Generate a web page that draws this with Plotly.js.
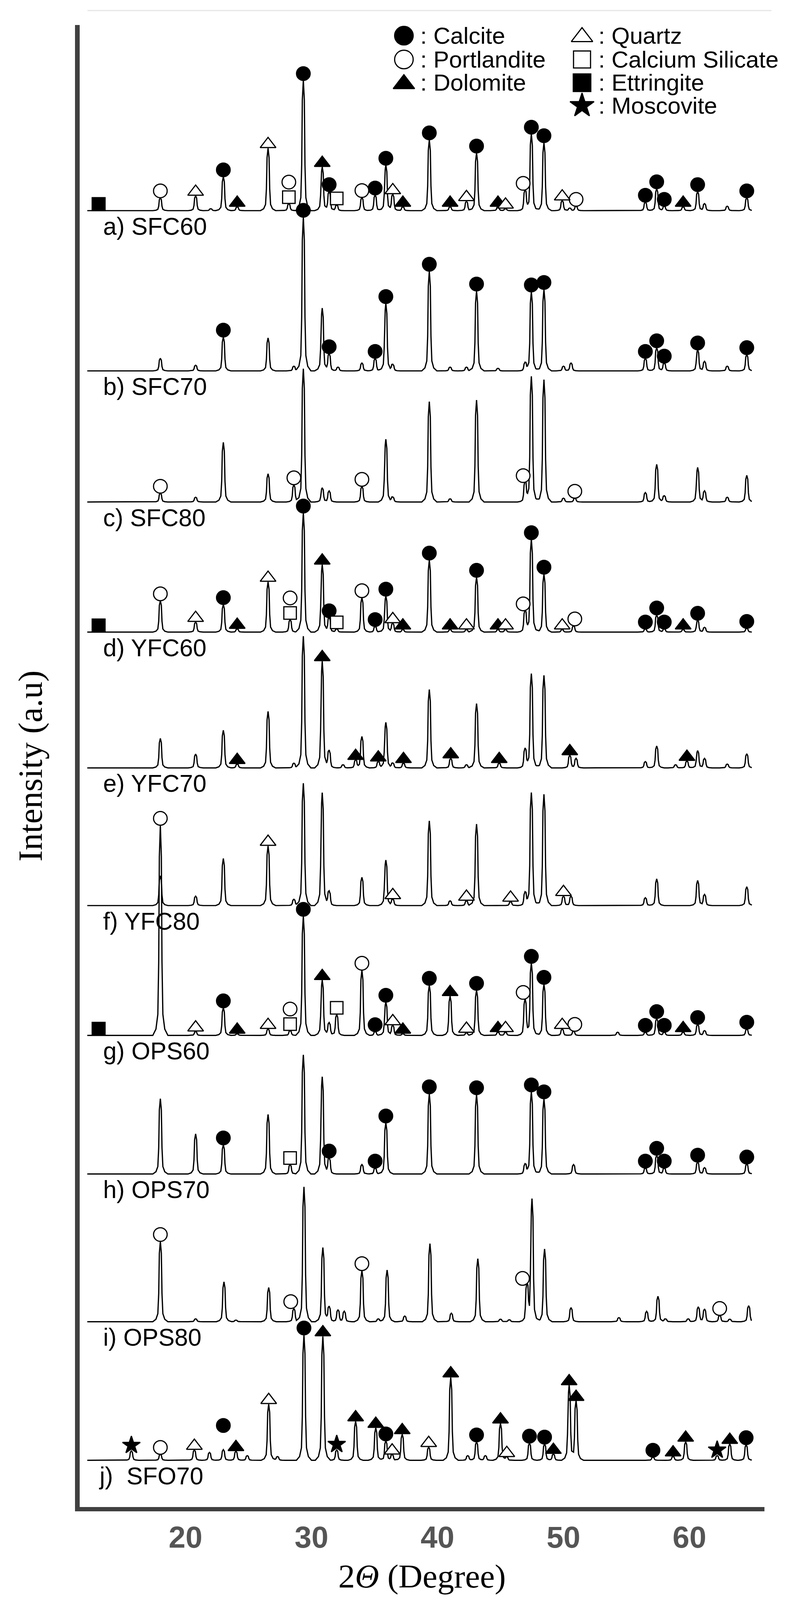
<!DOCTYPE html>
<html>
<head>
<meta charset="utf-8">
<script src="https://cdn.plot.ly/plotly-3.0.1.min.js"></script>
<style>html,body{margin:0;padding:0;background:#fff;overflow:hidden;}</style>
</head>
<body>
<div id="chart" style="width:2048px;height:5102px;"></div>
<script>
// ---------------- DATA ----------------
const sampleLabels = ['a) SFC60','b) SFC70','c) SFC80','d) YFC60','e) YFC70','f) YFC80','g) OPS60','h) OPS70','i) OPS80','j)\u00a0 SFO70'];
const stackOffset = [4134, 3623, 3205, 2790, 2357, 1918, 1504, 1062, 591, 149];
const tickValues = [20, 30, 40, 50, 60];
const scanRange = [12.2, 64.95];

const peaksSFC60 = [[18.0,41],[20.8,47],[22.0,6],[23.0,108],[24.1,12],[26.55,199],[28.2,22],[29.35,415],[30.85,139],[31.4,61],[32.0,18],[34.0,42],[35.05,50],[35.9,145],[36.45,52],[37.25,12],[39.35,226],[41.0,12],[42.3,30],[43.1,184],[44.8,12],[45.4,6],[46.95,65],[47.45,244],[48.45,217],[49.9,32],[50.5,8],[51.0,14],[56.5,27],[57.4,70],[58.0,14],[59.5,12],[60.65,61],[61.2,22],[63.0,14],[64.55,41]];
const peaksSFC70 = [[18.0,40],[20.8,18],[23.0,108],[26.55,105],[28.6,15],[29.35,490],[30.85,200],[31.4,55],[32.1,12],[34.0,25],[35.05,40],[35.9,215],[36.45,20],[39.35,318],[41.0,12],[42.3,12],[43.1,255],[44.8,8],[46.95,25],[47.45,252],[48.45,260],[50.0,15],[50.6,25],[56.5,40],[57.4,74],[58.0,25],[60.65,67],[61.2,30],[63.0,15],[64.55,52]];
const peaksSFC80 = [[18.0,28],[20.8,15],[23.0,190],[26.55,90],[28.6,55],[29.35,425],[30.85,45],[31.4,35],[34.0,50],[35.9,200],[36.45,15],[39.35,320],[41.0,10],[43.1,325],[46.95,62],[47.45,400],[48.45,390],[50.0,12],[50.9,12],[56.5,30],[57.4,120],[58.0,20],[60.65,110],[61.2,35],[63.0,15],[64.55,85]];
const peaksYFC60 = [[18.0,100],[20.8,32],[23.0,88],[24.1,10],[26.55,160],[28.3,40],[29.35,380],[30.85,215],[31.4,46],[32.0,10],[34.0,110],[35.05,18],[35.9,115],[36.45,28],[37.25,8],[39.35,230],[41.0,8],[42.3,8],[43.1,175],[44.8,8],[45.4,8],[46.95,68],[47.45,295],[48.45,185],[49.9,8],[50.8,20],[56.5,10],[57.4,55],[58.0,10],[59.5,8],[60.65,38],[61.2,15],[64.55,12]];
const peaksYFC70 = [[18.0,94],[20.8,44],[23.0,120],[24.1,12],[26.55,180],[28.6,15],[29.35,420],[30.85,340],[31.4,55],[32.5,10],[33.5,25],[34.0,100],[35.3,20],[35.9,145],[36.45,15],[37.3,15],[39.35,250],[41.05,30],[42.3,10],[43.1,205],[44.9,15],[46.95,60],[47.45,300],[48.45,295],[50.5,40],[51.0,30],[56.5,20],[57.4,70],[58.9,10],[59.8,22],[60.65,55],[61.2,30],[63.0,12],[64.55,45]];
const peaksYFC80 = [[18.0,95],[20.8,30],[23.0,150],[26.55,190],[28.6,20],[29.35,390],[30.85,360],[31.4,45],[34.0,90],[35.9,145],[36.45,20],[39.35,270],[41.0,15],[42.3,15],[43.1,260],[45.8,12],[46.95,40],[47.45,360],[48.45,355],[50.0,30],[50.6,30],[56.5,25],[57.4,85],[60.65,80],[61.2,35],[64.55,60]];
const peaksOPS60 = [[18.0,670],[20.8,12],[23.0,88],[24.1,5],[26.55,20],[28.3,15],[29.35,380],[30.85,176],[31.4,40],[32.0,67],[34.0,208],[35.05,12],[35.9,106],[36.45,32],[37.25,5],[39.35,160],[41.0,125],[42.3,8],[43.1,144],[44.8,10],[45.4,10],[46.95,115],[47.45,230],[48.45,163],[49.9,20],[50.8,13],[54.3,10],[56.5,10],[57.4,54],[58.0,10],[59.5,10],[60.65,35],[61.2,15],[64.55,20]];
const peaksOPS70 = [[18.0,240],[20.8,128],[23.0,93],[26.55,190],[28.3,30],[29.35,380],[30.85,310],[31.4,51],[34.0,30],[35.05,19],[35.9,163],[39.35,256],[43.1,253],[46.95,30],[47.45,262],[48.45,240],[50.8,30],[56.5,19],[57.4,60],[58.0,19],[60.65,38],[61.2,20],[64.55,32]];
const peaksOPS80 = [[18.0,256],[20.8,9],[23.05,127],[24.0,5],[26.6,109],[28.6,42],[29.4,430],[30.9,236],[31.4,47],[32.1,38],[32.6,33],[34.0,163],[35.3,9],[36.0,165],[37.4,18],[39.4,249],[41.1,27],[43.2,201],[45.0,8],[45.7,6],[47.1,116],[47.5,390],[48.5,232],[50.6,45],[54.4,13],[56.6,33],[57.5,81],[58.1,9],[59.9,9],[60.7,47],[61.2,40],[62.4,20],[63.2,8],[64.7,51]];
const peaksSFO70 = [[15.7,30],[18.0,19],[20.7,33],[21.9,25],[23.0,34],[24.0,29],[24.9,15],[26.6,179],[27.3,12],[29.4,400],[30.9,395],[32.0,33],[33.5,124],[35.1,103],[35.9,62],[36.4,18],[37.2,83],[39.3,42],[41.05,264],[42.4,15],[43.1,59],[43.8,15],[45.0,117],[45.5,10],[47.3,55],[48.5,52],[49.2,20],[50.45,239],[51.0,189],[57.1,10],[58.7,12],[59.7,59],[62.2,15],[63.2,52],[64.5,50]];

const marksSFC60 = [['Ett',13.1],['Por',18.0],['Qtz',20.8],['Cal',23.0],['Dol',24.1],['Qtz',26.55],['CS',28.2],['Por',28.2,47],['Cal',29.35],['Dol',30.85],['Cal',31.4],['CS',32.0],['Por',34.0],['Cal',35.05],['Cal',35.9],['Qtz',36.45],['Dol',37.25],['Cal',39.35],['Dol',41.0],['Qtz',42.3],['Cal',43.1],['Dol',44.8],['Qtz',45.4],['Por',46.8],['Cal',47.45],['Cal',48.45],['Qtz',49.9],['Por',51.0],['Cal',56.5],['Cal',57.4],['Cal',58.0],['Dol',59.5],['Cal',60.65],['Cal',64.55]];
const marksSFC70 = [['Cal',23.0],['Cal',29.35],['Cal',31.4],['Cal',35.05],['Cal',35.9],['Cal',39.35],['Cal',43.1],['Cal',47.45],['Cal',48.45],['Cal',56.5],['Cal',57.4],['Cal',58.0],['Cal',60.65],['Cal',64.55]];
const marksSFC80 = [['Por',18.0],['Por',28.6],['Por',34.0],['Por',46.8],['Por',50.9]];
const marksYFC60 = [['Ett',13.1],['Por',18.0],['Qtz',20.8],['Cal',23.0],['Dol',24.1],['Qtz',26.55],['CS',28.3],['Por',28.3,47],['Cal',29.35],['Dol',30.85],['Cal',31.4],['CS',32.0],['Por',34.0],['Cal',35.05],['Cal',35.9],['Qtz',36.45],['Dol',37.25],['Cal',39.35],['Dol',41.0],['Qtz',42.3],['Cal',43.1],['Dol',44.8],['Qtz',45.4],['Por',46.8],['Cal',47.45],['Cal',48.45],['Qtz',49.9],['Por',50.9],['Cal',56.5],['Cal',57.4],['Cal',58.0],['Dol',59.5],['Cal',60.65],['Cal',64.55]];
const marksYFC70 = [['Dol',24.1],['Dol',30.85],['Dol',33.5],['Dol',35.3],['Dol',37.3],['Dol',41.05],['Dol',44.9],['Dol',50.5],['Dol',59.8]];
const marksYFC80 = [['Qtz',26.55],['Qtz',36.45],['Qtz',42.3],['Qtz',45.8],['Qtz',50.0]];
const marksOPS60 = [['Ett',13.1],['Por',18.0],['Qtz',20.8],['Cal',23.0],['Dol',24.1],['Qtz',26.55],['CS',28.3],['Por',28.3,47],['Cal',29.35],['Dol',30.85],['CS',32.0],['Por',34.0],['Cal',35.05],['Cal',35.9],['Qtz',36.45],['Dol',37.25],['Cal',39.35],['Dol',41.0],['Qtz',42.3],['Cal',43.1],['Dol',44.8],['Qtz',45.4],['Por',46.8],['Cal',47.45],['Cal',48.45],['Qtz',49.9],['Por',50.9],['Cal',56.5],['Cal',57.4],['Cal',58.0],['Dol',59.5],['Cal',60.65],['Cal',64.55]];
const marksOPS70 = [['Cal',23.0],['CS',28.3],['Cal',31.4],['Cal',35.05],['Cal',35.9],['Cal',39.35],['Cal',43.1],['Cal',47.45],['Cal',48.45],['Cal',56.5],['Cal',57.4],['Cal',58.0],['Cal',60.65],['Cal',64.55]];
const marksOPS80 = [['Por',18.0],['Por',28.35],['Por',34.0],['Por',46.75],['Por',62.4]];
const marksSFO70 = [['Mos',15.7],['Por',18.0],['Qtz',20.7],['Cal',23.0,55],['Dol',24.0],['Qtz',26.6],['Cal',29.4],['Dol',30.9],['Mos',32.0],['Dol',33.5],['Dol',35.1],['Cal',35.9],['Qtz',36.4],['Dol',37.2],['Qtz',39.3],['Dol',41.05],['Cal',43.1],['Dol',45.0],['Qtz',45.5],['Cal',47.3],['Cal',48.5],['Dol',49.2],['Dol',50.45],['Dol',51.0],['Cal',57.1],['Dol',58.7],['Dol',59.7],['Mos',62.2],['Dol',63.2],['Cal',64.5]];

const phaseKeys = ['Cal','Por','Dol','Qtz','CS','Ett','Mos'];
const phaseNames = ['Calcite','Portlandite','Dolomite','Quartz','Calcium Silicate','Ettringite','Moscovite'];

// ---------------- STYLE / LAYOUT ----------------
// reference geometry is 2048 x 5102; the window may be shorter, so the figure is fitted into it
const refPage = {w:2048, h:5102, l:204, r:91, t:80, b:296};
const pageH = Math.min(refPage.h, window.innerHeight || refPage.h);
const sy = pageH / refPage.h;
const fs = sy < 1 ? 0.97 : 1;
document.getElementById('chart').style.height = pageH + 'px';

const phaseStyle = {
  Cal: {symbol:'circle',      fill:'#000', size:36, lift:22},
  Por: {symbol:'circle',      fill:'#fff', size:36, lift:22},
  Dol: {symbol:'triangle-up', fill:'#000', size:36, lift:13},
  Qtz: {symbol:'triangle-up', fill:'#fff', size:36, lift:13},
  CS:  {symbol:'square',      fill:'#fff', size:33, lift:21},
  Ett: {symbol:'square',      fill:'#000', size:34, lift:21},
  Mos: {symbol:'star',        fill:'#000', size:35, lift:18}
};
const legendPos = {Cal:[0,0], Por:[0,1], Dol:[0,2], Qtz:[1,0], CS:[1,1], Ett:[1,2], Mos:[1,3]};
const legendCols = [1034, 1490];
const legendRows = [114, 190, 264, 337];
const legendScale = 1.36;
const plotBottomRef = refPage.h - refPage.b;
const plotRightPx = refPage.w - refPage.r;
// one diffraction peak: offsets (degree) and relative intensity
const profileDx = [-0.6,-0.35,-0.2,-0.13,-0.08,0,0.08,0.13,0.2,0.35,0.6];
const profileFr = [0,0.03,0.1,0.35,0.85,1,0.85,0.35,0.1,0.03,0];

// ---------------- BUILD ----------------
const allPeaks = [peaksSFC60,peaksSFC70,peaksSFC80,peaksYFC60,peaksYFC70,peaksYFC80,peaksOPS60,peaksOPS70,peaksOPS80,peaksSFO70];
const allMarks = [marksSFC60,marksSFC70,marksSFC80,marksYFC60,marksYFC70,marksYFC80,marksOPS60,marksOPS70,marksOPS80,marksSFO70];

function profileAt(d) {
  const n = profileDx.length;
  if (d <= profileDx[0] || d >= profileDx[n-1]) return 0;
  for (let i = 0; i < n-1; i++) {
    if (d >= profileDx[i] && d <= profileDx[i+1]) {
      const t = (d - profileDx[i]) / (profileDx[i+1] - profileDx[i]);
      return profileFr[i] + t * (profileFr[i+1] - profileFr[i]);
    }
  }
  return 0;
}
function buildLine(peaks, off) {
  const set = new Set([scanRange[0], scanRange[1]]);
  peaks.forEach(([p]) => profileDx.forEach(d => set.add(+(p + d).toFixed(4))));
  const xs = [...set].filter(x => x >= scanRange[0] && x <= scanRange[1]).sort((a,b) => a-b);
  const ys = xs.map(x => off + peaks.reduce((s,[p,h]) => s + h * profileAt(x - p), 0));
  return {xs, ys};
}
function peakHeight(peaks, pos) {
  let best = 0, bd = 0.4;
  peaks.forEach(([p,h]) => { const dd = Math.abs(p - pos); if (dd < bd) { bd = dd; best = h; } });
  return best;
}

const traces = [];
allPeaks.forEach((pk, i) => {
  const ln = buildLine(pk, stackOffset[i]);
  traces.push({type:'scatter', mode:'lines', x:ln.xs, y:ln.ys, xaxis:'x', yaxis:'y',
    line:{color:'#000', width:3.2}, hoverinfo:'skip', showlegend:false, cliponaxis:false});
});
phaseKeys.forEach(key => {
  const xs = [], ys = [];
  allMarks.forEach((mk, i) => {
    mk.forEach(m => {
      if (m[0] !== key) return;
      xs.push(m[1]);
      ys.push(stackOffset[i] + peakHeight(allPeaks[i], m[1]) + phaseStyle[key].lift + (m[2] || 0));
    });
  });
  const st = phaseStyle[key];
  traces.push({type:'scatter', mode:'markers', x:xs, y:ys, xaxis:'x', yaxis:'y', cliponaxis:false,
    marker:{symbol:st.symbol, size:st.size * fs, color:st.fill, line:{color:'#000', width:3}},
    hoverinfo:'skip', showlegend:false});
});
phaseKeys.forEach(key => {
  const st = phaseStyle[key]; const [c, r] = legendPos[key];
  traces.push({type:'scatter', mode:'markers', x:[legendCols[c]], y:[legendRows[r] + (st.symbol==='triangle-up'?4:0)],
    xaxis:'x2', yaxis:'y2', cliponaxis:false,
    marker:{symbol:st.symbol, size:st.size * legendScale * fs, color:st.fill, line:{color:'#000', width:3}},
    hoverinfo:'skip', showlegend:false});
});

const annotations = [];
phaseKeys.forEach((key, k) => {
  const [c, r] = legendPos[key];
  annotations.push({xref:'x2', yref:'y2', x:legendCols[c] + 40, y:legendRows[r], xanchor:'left', yanchor:'middle',
    text:': ' + phaseNames[k], showarrow:false, font:{family:'Liberation Sans, Arial, sans-serif', size:62 * fs, color:'#000'}});
});
sampleLabels.forEach((lab, i) => {
  annotations.push({xref:'x2', yref:'y2', x:(i===9?251:262), y:plotBottomRef - stackOffset[i] + 50, xanchor:'left', yanchor:'middle',
    text:lab, showarrow:false, font:{family:'Liberation Sans, Arial, sans-serif', size:64 * fs, color:'#000'}});
});

const xMin = 20 + (refPage.l - 475) / 32.25;
const xMax = 20 + (plotRightPx - 475) / 32.25;
const mT = refPage.t * sy, mB = refPage.b * sy;

const layout = {
  width: refPage.w, height: pageH,
  margin: {l:refPage.l, r:refPage.r, t:mT, b:mB, pad:0},
  paper_bgcolor:'#fff', plot_bgcolor:'#fff',
  showlegend:false,
  xaxis: {range:[xMin, xMax], tickmode:'array', tickvals:tickValues, ticktext:tickValues.map(String),
    ticks:'', showgrid:false, zeroline:false, showline:true, linecolor:'#404040', linewidth:11,
    ticklabelstandoff:22 * sy,
    tickfont:{family:'Liberation Sans Narrow, Arial Narrow, Liberation Sans, Arial, sans-serif', size:80 * fs, color:'#555555', weight:'bold'},
    title:{text:'2<i>Θ</i> (Degree)', font:{family:'Liberation Serif, Times New Roman, serif', size:88 * fs, color:'#000'}, standoff:40 * sy}},
  yaxis: {range:[0, plotBottomRef - refPage.t], showticklabels:false, ticks:'', showgrid:false, zeroline:false,
    showline:true, linecolor:'#404040', linewidth:12,
    title:{text:'Intensity (a.u)', font:{family:'Liberation Serif, Times New Roman, serif', size:90 * fs, color:'#000'}, standoff:60}},
  xaxis2: {overlaying:'x', range:[refPage.l, plotRightPx], visible:false, fixedrange:true},
  yaxis2: {overlaying:'y', range:[plotBottomRef, refPage.t], visible:false, fixedrange:true},
  annotations: annotations,
  shapes: [{type:'line', xref:'paper', yref:'paper',
    x0:(224 - refPage.l)/(plotRightPx - refPage.l), x1:(1975 - refPage.l)/(plotRightPx - refPage.l),
    y0:(plotBottomRef - 34)/(plotBottomRef - refPage.t), y1:(plotBottomRef - 34)/(plotBottomRef - refPage.t),
    line:{color:'#e6e6e6', width:3}}]
};

Plotly.newPlot('chart', traces, layout, {staticPlot:true, displayModeBar:false});
</script>
</body>
</html>
